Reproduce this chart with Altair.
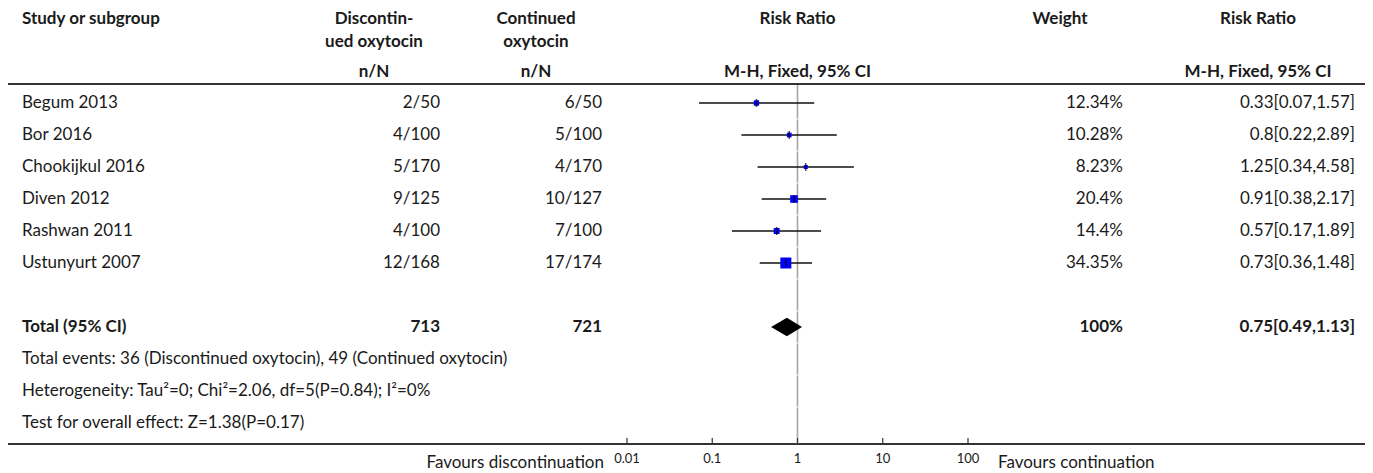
import altair as alt
import pandas as pd

# ---------------- data ----------------
studies = ["Begum 2013", "Bor 2016", "Chookijkul 2016", "Diven 2012", "Rashwan 2011", "Ustunyurt 2007"]
disc_nN = ["2/50", "4/100", "5/170", "9/125", "4/100", "12/168"]
cont_nN = ["6/50", "5/100", "4/170", "10/127", "7/100", "17/174"]
rr = [0.33, 0.8, 1.25, 0.91, 0.57, 0.73]
rr_lo = [0.07, 0.22, 0.34, 0.38, 0.17, 0.36]
rr_hi = [1.57, 2.89, 4.58, 2.17, 1.89, 1.48]
weights = [12.34, 10.28, 8.23, 20.4, 14.4, 34.35]
weight_labels = ["12.34%", "10.28%", "8.23%", "20.4%", "14.4%", "34.35%"]
rr_labels = ["0.33[0.07,1.57]", "0.8[0.22,2.89]", "1.25[0.34,4.58]",
             "0.91[0.38,2.17]", "0.57[0.17,1.89]", "0.73[0.36,1.48]"]

total_label = "Total (95% CI)"
total_disc = "713"
total_cont = "721"
total_weight = "100%"
total_rr = 0.75
total_lo = 0.49
total_hi = 1.13
total_rr_label = "0.75[0.49,1.13]"

footnotes = [
    "Total events: 36 (Discontinued oxytocin), 49 (Continued oxytocin)",
    "Heterogeneity: Tau\u00b2=0; Chi\u00b2=2.06, df=5(P=0.84); I\u00b2=0%",
    "Test for overall effect: Z=1.38(P=0.17)",
]

tick_values = [0.01, 0.1, 1, 10, 100]
tick_labels = ["0.01", "0.1", "1", "10", "100"]
favours_left = "Favours discontinuation"
favours_right = "Favours continuation"

hdr_study = "Study or subgroup"
hdr_disc = ["Discontin-", "ued oxytocin", "n/N"]
hdr_cont = ["Continued", "oxytocin", "n/N"]
hdr_rr = ["Risk Ratio", "M-H, Fixed, 95% CI"]
hdr_weight = "Weight"

# ---------------- layout ----------------
W, H = 1357, 465
FONT = "Lato"
FS = 17
TXT = "#1a1a1a"

X_STUDY = 14
X_DISC = 432
X_DISC_H = 366
X_CONT = 594
X_CONT_H = 528
X_WEIGHT = 1115
X_WEIGHT_H = 1052
X_RR = 1347
X_RR_H = 1250

Y_H1, Y_H2, Y_H3 = 11, 34, 64
Y_HLINE = 76
Y_AXIS = 436
Y_TICKLAB = 451
Y_FAV = 455

ROW0_Y, ROW_STEP = 95, 32
n_st = len(studies)
total_row = n_st + 1
foot_rows = [total_row + 1 + i for i in range(len(footnotes))]
last_row = foot_rows[-1]


def row_of(px):
    return (px - ROW0_Y) / ROW_STEP


yscale = alt.Scale(domain=[0, last_row], range=[ROW0_Y, ROW0_Y + ROW_STEP * last_row],
                   zero=False, nice=False)
xscale = alt.Scale(type="log", domain=[0.01, 100], range=[619, 960])

studies_df = pd.DataFrame({
    "study": studies, "disc": disc_nN, "cont": cont_nN, "rr": rr, "lo": rr_lo,
    "hi": rr_hi, "w": weights, "wl": weight_labels, "rrl": rr_labels,
    "row": list(range(n_st)),
})

total_df = pd.DataFrame({
    "study": [total_label], "disc": [total_disc], "cont": [total_cont],
    "wl": [total_weight], "rrl": [total_rr_label], "row": [total_row],
})

foot_df = pd.DataFrame({"t": footnotes, "row": foot_rows})

one = pd.DataFrame({"a": [0]})


def text_col(df, field, x, align, bold=False):
    return alt.Chart(df).mark_text(
        align=align, baseline="middle", font=FONT, fontSize=FS,
        fontWeight="bold" if bold else "normal", color=TXT,
    ).encode(
        x=alt.value(x),
        y=alt.Y("row:Q", scale=yscale, axis=None),
        text=f"{field}:N",
    )


def label(t, x, y, align="center", bold=True, size=FS, color=TXT):
    return alt.Chart(pd.DataFrame({"t": [t]})).mark_text(
        align=align, baseline="middle", font=FONT, fontSize=size,
        fontWeight="bold" if bold else "normal", color=color,
    ).encode(x=alt.value(x), y=alt.value(y), text="t:N")


layers = []

# header texts
layers += [
    label(hdr_study, X_STUDY, Y_H1, align="left"),
    label(hdr_disc[0], X_DISC_H, Y_H1), label(hdr_disc[1], X_DISC_H, Y_H2), label(hdr_disc[2], X_DISC_H, Y_H3),
    label(hdr_cont[0], X_CONT_H, Y_H1), label(hdr_cont[1], X_CONT_H, Y_H2), label(hdr_cont[2], X_CONT_H, Y_H3),
    label(hdr_weight, X_WEIGHT_H, Y_H1),
    label(hdr_rr[0], X_RR_H, Y_H1), label(hdr_rr[1], X_RR_H, Y_H3),
]
# plot column header, centred on the line of no effect
plot_hdr = pd.DataFrame({"t": hdr_rr, "v": [1, 1], "yy": [Y_H1, Y_H3]})
layers.append(
    alt.Chart(plot_hdr).mark_text(font=FONT, fontSize=FS, fontWeight="bold", color=TXT,
                                  align="center", baseline="middle").encode(
        x=alt.X("v:Q", scale=xscale, axis=None),
        y=alt.Y("yy:Q", scale=None),
        text="t:N",
    )
)

# horizontal lines
layers.append(alt.Chart(one).mark_rule(color="#333333", strokeWidth=2).encode(
    x=alt.value(0), x2=alt.value(W), y=alt.value(Y_HLINE)))
layers.append(alt.Chart(one).mark_rule(color="#333333", strokeWidth=2).encode(
    x=alt.value(0), x2=alt.value(W), y=alt.value(Y_AXIS)))

# line of no effect (segmented per row)
seg_rows = list(range(last_row + 1))
seg_df = pd.DataFrame({
    "v": [1] * len(seg_rows),
    "y0": [row_of(Y_HLINE + 1) if r == 0 else r - 0.485 for r in seg_rows],
    "y1": [row_of(Y_AXIS) if r == last_row else r + 0.485 for r in seg_rows],
})
layers.append(alt.Chart(seg_df).mark_rule(color="#a6a6a6", strokeWidth=1.6).encode(
    x=alt.X("v:Q", scale=xscale, axis=None),
    y=alt.Y("y0:Q", scale=yscale, axis=None), y2="y1:Q"))

# axis ticks and labels
tick_df = pd.DataFrame({"v": tick_values, "lab": tick_labels})
layers.append(alt.Chart(tick_df).mark_rule(color="#333333", strokeWidth=1.2).encode(
    x=alt.X("v:Q", scale=xscale, axis=None),
    y=alt.value(Y_AXIS - 6), y2=alt.value(Y_AXIS)))
layers.append(alt.Chart(tick_df).mark_text(font=FONT, fontSize=13, color=TXT, baseline="middle").encode(
    x=alt.X("v:Q", scale=xscale, axis=None), y=alt.value(Y_TICKLAB), text="lab:N"))

layers.append(label(favours_left, 596, Y_FAV, align="right", bold=False))
layers.append(label(favours_right, 990, Y_FAV, align="left", bold=False))

# confidence intervals
layers.append(alt.Chart(studies_df).mark_rule(color="#111111", strokeWidth=1.6).encode(
    x=alt.X("lo:Q", scale=xscale, axis=None), x2="hi:Q",
    y=alt.Y("row:Q", scale=yscale, axis=None)))
# weight squares
layers.append(alt.Chart(studies_df).mark_square(color="#0000ff", opacity=1).encode(
    x=alt.X("rr:Q", scale=xscale, axis=None),
    y=alt.Y("row:Q", scale=yscale, axis=None),
    size=alt.Size("w:Q", scale=alt.Scale(type="pow", exponent=1.4, domain=[0, max(weights)],
                                         range=[0, 121]), legend=None)))
# point estimate ticks
layers.append(alt.Chart(studies_df).mark_tick(orient="vertical", color="#000000", size=8, thickness=1.5).encode(
    x=alt.X("rr:Q", scale=xscale, axis=None),
    y=alt.Y("row:Q", scale=yscale, axis=None)))

# diamond
half = 9.3 / ROW_STEP
dia_df = pd.DataFrame({
    "x": [total_lo, total_rr, total_hi],
    "y0": [total_row, total_row - half, total_row],
    "y1": [total_row, total_row + half, total_row],
})
layers.append(alt.Chart(dia_df).mark_area(color="#000000", orient="vertical").encode(
    x=alt.X("x:Q", scale=xscale, axis=None),
    y=alt.Y("y0:Q", scale=yscale, axis=None), y2="y1:Q"))

# table text
layers += [
    text_col(studies_df, "study", X_STUDY, "left"),
    text_col(studies_df, "disc", X_DISC, "right"),
    text_col(studies_df, "cont", X_CONT, "right"),
    text_col(studies_df, "wl", X_WEIGHT, "right"),
    text_col(studies_df, "rrl", X_RR, "right"),
    text_col(total_df, "study", X_STUDY, "left", bold=True),
    text_col(total_df, "disc", X_DISC, "right", bold=True),
    text_col(total_df, "cont", X_CONT, "right", bold=True),
    text_col(total_df, "wl", X_WEIGHT, "right", bold=True),
    text_col(total_df, "rrl", X_RR, "right", bold=True),
    text_col(foot_df, "t", X_STUDY, "left"),
]

chart = alt.layer(*layers).properties(
    width=W, height=H, padding=0, autosize=alt.AutoSizeParams(type="none"),
    background="white",
).configure_view(stroke=None)

chart.save("out.html", embed_options={"renderer": "svg", "actions": False})
